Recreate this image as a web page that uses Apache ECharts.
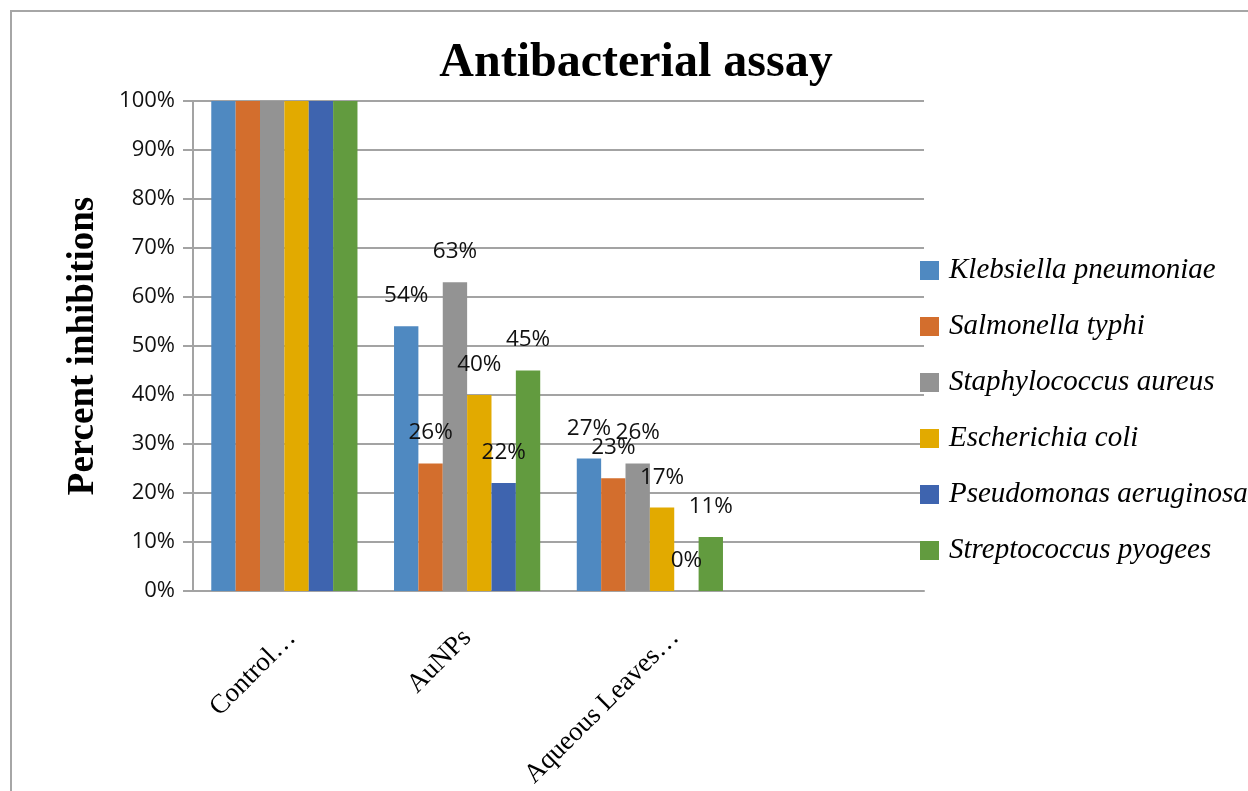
<!DOCTYPE html>
<html>
<head>
<meta charset="utf-8">
<script src="https://cdn.jsdelivr.net/npm/echarts@6/dist/echarts.min.js"></script>
<style>
  html, body { margin: 0; padding: 0; background: #fff; }
  #chart { width: 1248px; height: 791px; }
</style>
</head>
<body>
<div id="chart"></div>
<script>
// Treatments on the category axis (the last slot is left empty)
const categories = ['Control\u2026', 'AuNPs', 'Aqueous Leaves\u2026', ''];

// Percent inhibition per organism, one value per treatment
const klebsiella    = [100, 54, 27];
const salmonella    = [100, 26, 23];
const staph         = [100, 63, 26];
const ecoli         = [100, 40, 17];
const pseudomonas   = [100, 22, 0];
const streptococcus = [100, 45, 11];

const seriesNames = [
  'Klebsiella pneumoniae',
  'Salmonella typhi',
  'Staphylococcus aureus',
  'Escherichia coli',
  'Pseudomonas aeruginosa',
  'Streptococcus pyogees'
];

const yTicks = [0, 10, 20, 30, 40, 50, 60, 70, 80, 90, 100];

// ---- styling ----
const seriesValues = [klebsiella, salmonella, staph, ecoli, pseudomonas, streptococcus];
const seriesColors = ['#4f89c1', '#d36e2d', '#939393', '#e2aa00', '#3e64af', '#629b3f'];
// per-category alignment/padding that nudges the slanted tick labels
const categoryLabelStyle = [
  { verticalAlign: 'top', padding: [-8, -5, 0, 0] },
  { verticalAlign: 'middle', padding: [0, 0, 0, 0] },
  { verticalAlign: 'top', padding: [4, -18, 0, 0] },
  { verticalAlign: 'middle', padding: [0, 0, 0, 0] }
];

const sansFont = '"Open Sans", "Liberation Sans", sans-serif';
const serifFont = '"Liberation Serif", "DejaVu Serif", serif';
const gridColor = '#a3a3a3';

const chart = echarts.init(document.getElementById('chart'), null, { renderer: 'canvas' });

const series = seriesNames.map((name, i) => ({
  name: name,
  type: 'bar',
  barGap: '0%',
  barCategoryGap: '20%',
  itemStyle: { color: seriesColors[i] },
  label: {
    show: true,
    position: 'top',
    distance: 19,
    formatter: '{c}%',
    color: '#111',
    fontFamily: sansFont,
    fontSize: 22.5
  },
  // control bars carry no value labels
  data: seriesValues[i].map((v, j) => j === 0 ? { value: v, label: { show: false } } : v)
}));

const axisCategories = categories.map((c, i) => ({
  value: c,
  textStyle: categoryLabelStyle[i]
}));

chart.setOption({
  animation: false,
  backgroundColor: '#fff',
  graphic: [{
    type: 'rect',
    shape: { x: 11, y: 11, width: 1400, height: 1000 },
    style: { fill: 'none', stroke: '#a6a6a6', lineWidth: 2 },
    silent: true
  }],
  title: {
    text: 'Antibacterial assay',
    left: 631,
    textAlign: 'center',
    top: 35,
    textStyle: {
      fontFamily: serifFont,
      fontWeight: 'bold',
      fontSize: 48,
      color: '#000'
    }
  },
  legend: {
    orient: 'vertical',
    left: 915,
    top: 251,
    itemWidth: 19,
    itemHeight: 19,
    itemGap: 27,
    icon: 'rect',
    data: seriesNames,
    textStyle: {
      fontFamily: serifFont,
      fontStyle: 'italic',
      fontSize: 29,
      lineHeight: 29,
      color: '#000',
      padding: [0, 0, 0, 5]
    }
  },
  grid: {
    left: 193,
    right: 324,
    top: 101,
    bottom: 200,
    containLabel: false
  },
  xAxis: {
    type: 'category',
    data: axisCategories,
    axisLine: { show: true, lineStyle: { color: gridColor, width: 2 } },
    axisTick: { show: false },
    axisLabel: {
      rotate: 45,
      margin: 43,
      interval: 0,
      fontFamily: serifFont,
      fontSize: 27,
      color: '#000'
    }
  },
  yAxis: {
    type: 'value',
    min: yTicks[0],
    max: yTicks[yTicks.length - 1],
    interval: yTicks[1] - yTicks[0],
    name: 'Percent inhibitions',
    nameLocation: 'middle',
    nameRotate: 90,
    nameGap: 91,
    nameTextStyle: {
      fontFamily: serifFont,
      fontWeight: 'bold',
      fontSize: 37,
      color: '#000'
    },
    axisLine: { show: true, lineStyle: { color: gridColor, width: 2 } },
    axisTick: { show: true, inside: false, length: 10, lineStyle: { color: gridColor, width: 2 } },
    splitLine: { show: true, lineStyle: { color: gridColor, width: 2 } },
    axisLabel: {
      margin: 18,
      formatter: '{value}%',
      fontFamily: sansFont,
      fontSize: 22,
      color: '#111'
    }
  },
  series: series
});
</script>
</body>
</html>
